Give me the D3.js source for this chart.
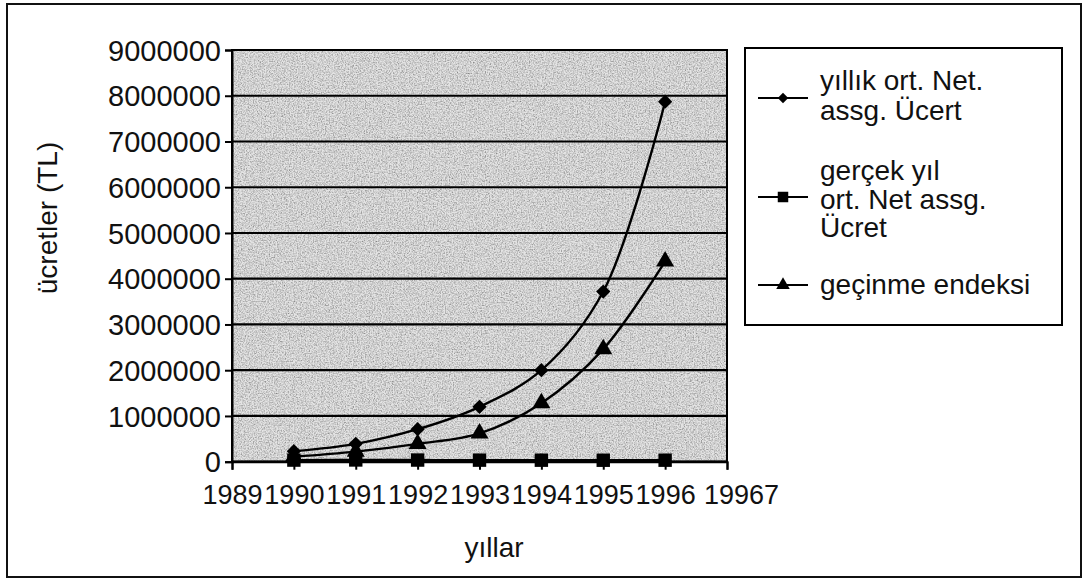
<!DOCTYPE html>
<html><head><meta charset="utf-8">
<script src="https://cdn.jsdelivr.net/npm/d3@7"></script>
<style>
html,body{margin:0;padding:0;background:#fff;}
svg{display:block;font-family:"Liberation Sans",Arial,sans-serif;}
</style></head>
<body>
<svg id="chart" width="1085" height="579"></svg>
<script>
// ---- data ----
const years = [1990, 1991, 1992, 1993, 1994, 1995, 1996];
const yillikNet = [230000, 390000, 710000, 1200000, 2000000, 3720000, 7870000];
const gercekNet = [35000, 38000, 36000, 34000, 33000, 32000, 33000];
const gecinme = [110000, 220000, 390000, 620000, 1280000, 2460000, 4380000];
const xTickValues = [1989, 1990, 1991, 1992, 1993, 1994, 1995, 1996, 1997];
const xTickLabels = ["1989", "1990", "1991", "1992", "1993", "1994", "1995", "1996", "19967"];
const yTickValues = [0, 1000000, 2000000, 3000000, 4000000, 5000000, 6000000, 7000000, 8000000, 9000000];
const seriesNames = [["yıllık ort. Net.", "assg. Ücert"], ["gerçek yıl", "ort. Net assg.", "Ücret"], ["geçinme endeksi"]];

const svg = d3.select("#chart");
const plot = {left: 232, right: 727, top: 50, bottom: 461.7};
const FONT = "'Liberation Sans', Arial, sans-serif";

// grain filter for scanned grey look
const defs = svg.append("defs");
const f = defs.append("filter").attr("id", "grain").attr("x", 0).attr("y", 0).attr("width", 1).attr("height", 1)
  .attr("color-interpolation-filters", "sRGB");
f.append("feTurbulence").attr("type", "fractalNoise").attr("baseFrequency", 0.75).attr("numOctaves", 2).attr("seed", 7).attr("result", "n");
f.append("feColorMatrix").attr("in", "n").attr("type", "matrix")
  .attr("values", "0.6 0.6 0 0 0  0.6 0.6 0 0 0  0.6 0.6 0 0 0  0 0 0 0 1").attr("result", "g");
const ct = f.append("feComponentTransfer").attr("in", "g").attr("result", "g2");
["feFuncR", "feFuncG", "feFuncB"].forEach(fn => ct.append(fn).attr("type", "linear").attr("slope", 0.85).attr("intercept", 0.4));
f.append("feBlend").attr("in", "SourceGraphic").attr("in2", "g2").attr("mode", "multiply").attr("result", "b");
f.append("feComposite").attr("in", "b").attr("in2", "SourceGraphic").attr("operator", "in");

// outer frame
svg.append("rect").attr("x", 7).attr("y", 4).attr("width", 1074).attr("height", 573)
  .attr("fill", "#fff").attr("stroke", "#111").attr("stroke-width", 2);

const x = d3.scaleLinear().domain([1989, 1997]).range([plot.left, plot.right]);
const y = d3.scaleLinear().domain([0, 9000000]).range([plot.bottom, plot.top]);

// plot area
svg.append("rect").attr("x", plot.left).attr("y", plot.top)
  .attr("width", plot.right - plot.left).attr("height", plot.bottom - plot.top)
  .attr("fill", "#e4e4e4").attr("filter", "url(#grain)");

// gridlines
svg.append("g").selectAll("line").data(yTickValues).enter().append("line")
  .attr("x1", plot.left).attr("x2", plot.right)
  .attr("y1", d => y(d)).attr("y2", d => y(d))
  .attr("stroke", "#000").attr("stroke-width", 2.2);
// plot border
svg.append("rect").attr("x", plot.left).attr("y", plot.top)
  .attr("width", plot.right - plot.left).attr("height", plot.bottom - plot.top)
  .attr("fill", "none").attr("stroke", "#000").attr("stroke-width", 2);

// axes
const yAxis = d3.axisLeft(y).tickValues(yTickValues).tickFormat(d3.format("d")).tickSize(7).tickPadding(4);
const gy = svg.append("g").attr("transform", `translate(${plot.left},0)`).call(yAxis);
gy.select(".domain").attr("stroke", "#000").attr("stroke-width", 2);
gy.selectAll(".tick line").attr("stroke", "#000").attr("stroke-width", 2);
gy.selectAll(".tick text").attr("font-size", 29).attr("fill", "#111")
  .attr("font-family", FONT).attr("dy", "0.35em");

const xAxis = d3.axisBottom(x).tickValues(xTickValues).tickFormat((d, i) => xTickLabels[i]).tickSize(8).tickPadding(16);
const gx = svg.append("g").attr("transform", `translate(0,${plot.bottom})`).call(xAxis);
gx.select(".domain").attr("stroke", "#000").attr("stroke-width", 2);
gx.selectAll(".tick line").attr("stroke", "#000").attr("stroke-width", 2);
gx.selectAll(".tick text").attr("font-size", 27).attr("fill", "#111")
  .attr("font-family", FONT).attr("dy", "0.68em")
  .attr("dx", (d, i) => i === xTickLabels.length - 1 ? 14 : 0);

// axis titles
svg.append("text").attr("transform", "translate(57,218) rotate(-90)").attr("text-anchor", "middle")
  .attr("font-size", 28).attr("fill", "#111").text("ücretler (TL)");
svg.append("text").attr("x", 494).attr("y", 557).attr("text-anchor", "middle")
  .attr("font-size", 28).attr("fill", "#111").text("yıllar");

// lines
const line = d3.line().x((d, i) => x(years[i])).y(d => y(d)).curve(d3.curveCatmullRom.alpha(0.5));
const allSeries = [yillikNet, gercekNet, gecinme];
allSeries.forEach(s => {
  svg.append("path").datum(s).attr("d", line).attr("fill", "none").attr("stroke", "#000").attr("stroke-width", 2.4);
});

const sym = [d3.symbol().type(d3.symbolDiamond2).size(130), d3.symbol().type(d3.symbolSquare).size(180), d3.symbol().type(d3.symbolTriangle).size(140)];
allSeries.forEach((s, k) => {
  svg.append("g").selectAll("path").data(s).enter().append("path")
    .attr("d", sym[k]).attr("transform", (d, i) => `translate(${x(years[i])},${y(d)})`)
    .attr("fill", "#000");
});

// legend
svg.append("rect").attr("x", 745).attr("y", 48).attr("width", 317).attr("height", 277)
  .attr("fill", "#fff").attr("stroke", "#000").attr("stroke-width", 2);
const legY = [98, 197, 285];
const legTextY = [[90, 120], [180, 209, 237], [294]];
const legSym = [d3.symbol().type(d3.symbolDiamond2).size(70), d3.symbol().type(d3.symbolSquare).size(110), d3.symbol().type(d3.symbolTriangle).size(80)];
seriesNames.forEach((names, k) => {
  svg.append("line").attr("x1", 758).attr("x2", 808).attr("y1", legY[k]).attr("y2", legY[k])
    .attr("stroke", "#000").attr("stroke-width", 2);
  svg.append("path").attr("d", legSym[k]).attr("transform", `translate(783,${legY[k]})`).attr("fill", "#000");
  names.forEach((t, j) => {
    svg.append("text").attr("x", 820).attr("y", legTextY[k][j]).attr("font-size", 28).attr("fill", "#111").text(t);
  });
});
</script>
</body></html>
